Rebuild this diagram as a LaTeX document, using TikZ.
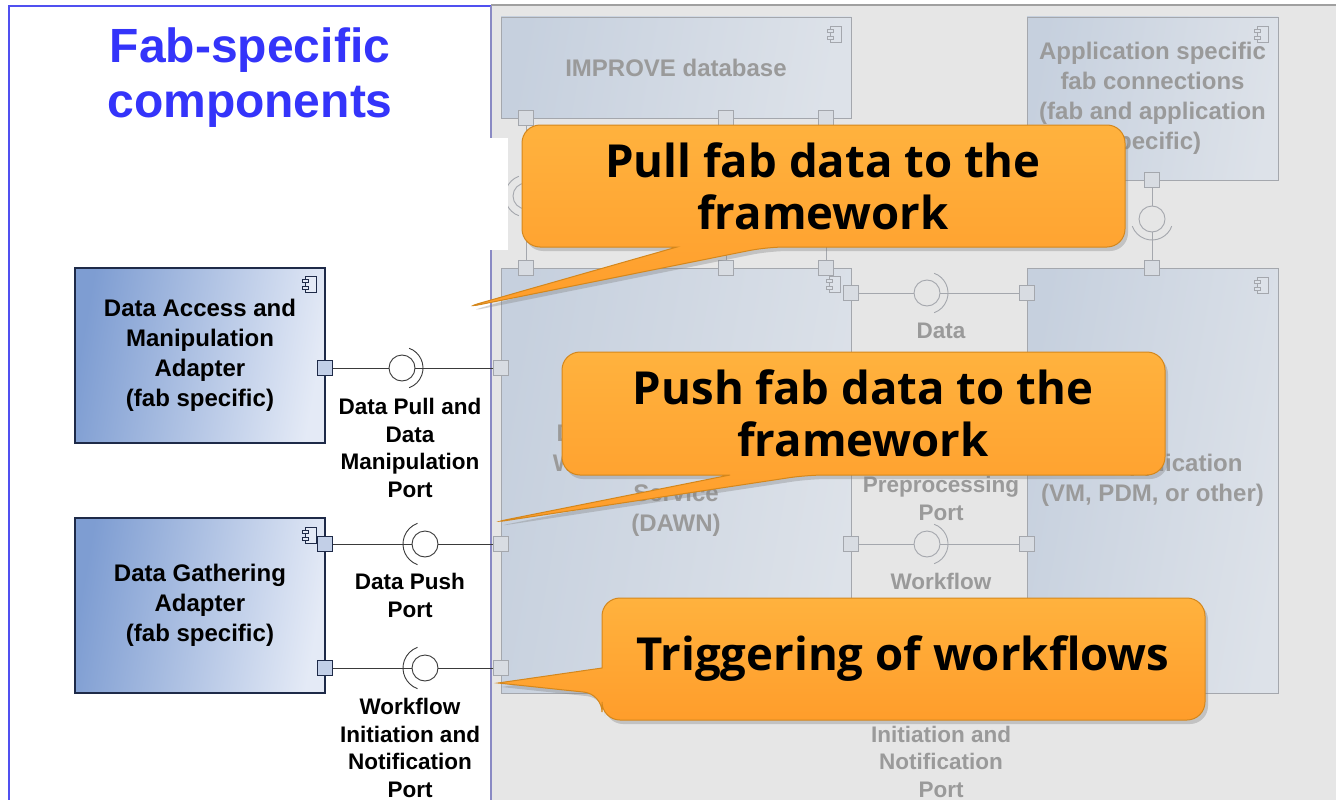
\documentclass[tikz,border=0pt]{standalone}
\usepackage{fontspec}
\setmainfont{Liberation Sans}
\newfontfamily\bubblefont{Open Sans}
\usetikzlibrary{shadows}

\definecolor{titleblue}{HTML}{3434FA}
\definecolor{panelblue}{HTML}{5050F0}
\definecolor{paneledge}{HTML}{8A8AC4}
\definecolor{greybg}{HTML}{E6E6E6}
\definecolor{greyedge}{HTML}{A0A0A0}
\definecolor{fadeA}{HTML}{C6D0DE}
\definecolor{fadeB}{HTML}{DDE2E9}
\definecolor{fadeline}{HTML}{A4A7AD}
\definecolor{fadetext}{HTML}{9A9A9A}
\definecolor{fadeport}{HTML}{D8DCE2}
\definecolor{adA}{HTML}{7E9DD2}
\definecolor{adB}{HTML}{E4EAF6}
\definecolor{adedge}{HTML}{1E2A48}
\definecolor{adport}{HTML}{C2CFE7}
\definecolor{wirecol}{HTML}{3A3A3A}
\definecolor{orangeA}{HTML}{FFB23E}
\definecolor{orangeB}{HTML}{FF9D2B}
\definecolor{orangeedge}{HTML}{D4871C}

\tikzset{
  compicon/.pic={
    \path[pic actions] (-4,-8) rectangle (7,8);
    \path[pic actions] (-7,-5) rectangle (-1,-2);
    \path[pic actions] (-7,2) rectangle (-1,5);
  },
  boxfont/.style={font=\fontsize{24}{30}\selectfont\bfseries},
  labelfont/.style={font=\fontsize{22.5}{27.5}\selectfont\bfseries, align=center, inner sep=0pt},
  adapter/.style={rectangle, draw=adedge, line width=1.3pt, left color=adA, right color=adB,
    shading angle=80, inner sep=0pt, boxfont, text=black, align=center},
  faded/.style={rectangle, draw=fadeline, line width=0.9pt, left color=fadeA, right color=fadeB,
    shading angle=80, inner sep=0pt, boxfont, text=fadetext, align=center},
  port/.style={rectangle, minimum size=15pt, inner sep=0pt, draw=adedge, fill=adport, line width=0.8pt},
  fport/.style={rectangle, minimum size=15pt, inner sep=0pt, draw=fadeline, fill=fadeport, line width=0.8pt},
  ball/.style={circle, minimum size=26pt, inner sep=0pt, draw=wirecol, fill=white, line width=0.9pt},
  fball/.style={circle, minimum size=26pt, inner sep=0pt, draw=fadeline, fill=greybg, line width=0.9pt},
  link/.style={draw=wirecol, line width=0.9pt},
  flink/.style={draw=fadeline, line width=0.9pt},
  sock/.style={draw=wirecol, line width=0.9pt},
  fsock/.style={draw=fadeline, line width=0.9pt},
  icondark/.style={draw=adedge, fill=adB, line width=0.7pt},
  iconfade/.style={draw=fadeline, fill=fadeB, line width=0.7pt},
  bubble/.style={draw=orangeedge, line width=1pt, top color=orangeA, bottom color=orangeB,
    drop shadow={opacity=0.35, shadow xshift=3pt, shadow yshift=-4pt}},
  bubbletext/.style={font={\bubblefont\bfseries\fontsize{45.5}{52}\selectfont}, align=center,
    inner sep=0pt, text=black},
}

\begin{document}
\begin{tikzpicture}[x=1pt,y=-1pt]
\useasboundingbox (0,0) rectangle (1336,800);
\fill[white] (0,0) rectangle (1336,800);

% framework area (grey, right)
\fill[greybg] (491,5) rectangle (1336,800);
\draw[greyedge, line width=1.2pt] (491,5) -- (1336,5);
% frame of the fab-specific panel
\draw[panelblue, line width=1.6pt] (9,800) -- (9,6) -- (491,6);
\draw[paneledge, line width=1.6pt] (491,6) -- (491,800);

% framework components
\node[faded, minimum width=350pt, minimum height=101pt] (improve) at (676,67.5) {IMPROVE database};
\node[faded, minimum width=251pt, minimum height=163pt] (appfab) at (1152.5,98.5)
  {Application specific\\fab connections\\(fab and application\\specific)};
\node[faded, minimum width=350pt, minimum height=425pt] (dawn) at (676,480.5)
  {Data Acquisition and\\Workflow Notification\\Service\\(DAWN)};
\node[faded, minimum width=251pt, minimum height=425pt] (app) at (1152.5,480.5)
  {Fab Application\\(VM, PDM, or other)};

\pic[iconfade] at (834,34) {compicon};
\pic[iconfade] at (1261,34) {compicon};
\pic[iconfade] at (833,284) {compicon};
\pic[iconfade] at (1261,285) {compicon};

% framework ports
\foreach \n/\x/\y in {i1/526/118, i2/726/118, i3/826/118, t1/526/268, t2/726/268, t3/826/268,
    s1/1152/180, s2/1152/268, r1/851/293, r2/851/544, a1/1027/293, a2/1027/544,
    l1/501/368, l2/501/544, l3/501/668}
  \node[fport] (\n) at (\x,\y) {};

% framework interfaces
\node[fball] (bT) at (526,196) {};
\node[fball] (bS) at (1152,219) {};
\node[fball] (bM1) at (927,293) {};
\node[fball] (bM2) at (927,544) {};
\draw[fsock] ([shift={(110:21)}]bT.center) arc (110:250:21);
\draw[fsock] ([shift={(20:21)}]bS.center) arc (20:160:21);
\draw[fsock] ([shift={(-70:21)}]bM1.center) arc (-70:70:21);
\draw[fsock] ([shift={(-70:21)}]bM2.center) arc (-70:70:21);

\draw[flink] (i1) -- (bT);
\draw[flink] (bT) -- (t1);
\draw[flink] (i2) -- (t2);
\draw[flink] (i3) -- (t3);
\draw[flink] (s1) -- (bS);
\draw[flink] (bS) -- (s2);
\draw[flink] (r1) -- (bM1);
\draw[flink] (bM1) -- (a1);
\draw[flink] (r2) -- (bM2);
\draw[flink] (bM2) -- (a2);

\node[labelfont, text=fadetext] (lbData) at (941,331) {Data};
\node[labelfont, text=fadetext] (lbPrep) at (941,498.5) {Preprocessing\\Port};
\node[labelfont, text=fadetext] (lbWf) at (941,581) {Workflow};
\node[labelfont, text=fadetext] (lbWfin) at (941,748) {Workflow\\Initiation and\\Notification\\Port};

% white patch over the framework edge
\fill[white] (488,138) rectangle (508,250);

% fab-specific adapters
\node[adapter, minimum width=250pt, minimum height=175pt] (dama) at (200,355.5)
  {Data Access and\\Manipulation\\Adapter\\(fab specific)};
\node[adapter, minimum width=250pt, minimum height=175pt] (dga) at (200,605.5)
  {Data Gathering\\Adapter\\(fab specific)};
\pic[icondark] at (309,284) {compicon};
\pic[icondark] at (309,535) {compicon};

\node[port] (pA) at (325,368) {};
\node[port] (pB) at (325,544) {};
\node[port] (pC) at (325,668) {};

\node[ball] (bA) at (402,368) {};
\node[ball] (bB) at (425,544) {};
\node[ball] (bC) at (425,668) {};
\draw[sock] ([shift={(-70:21)}]bA.center) arc (-70:70:21);
\draw[sock] ([shift={(110:22)}]bB.center) arc (110:250:22);
\draw[sock] ([shift={(110:22)}]bC.center) arc (110:250:22);

\draw[link] (pA) -- (bA);
\draw[link] (bA) -- (l1);
\draw[link] (pB) -- (bB);
\draw[link] (bB) -- (l2);
\draw[link] (pC) -- (bC);
\draw[link] (bC) -- (l3);

\node[labelfont] (lbPull) at (410,448) {Data Pull and\\Data\\Manipulation\\Port};
\node[labelfont] (lbPush) at (410,595.5) {Data Push\\Port};
\node[labelfont] (lbTrig) at (410,748) {Workflow\\Initiation and\\Notification\\Port};

% title
\node[font=\fontsize{48}{55}\selectfont\bfseries, text=titleblue, align=center, inner sep=0pt]
  (title) at (250,77.5) {Fab-specific\\components};

% callouts
\path[bubble] (522,186) [rounded corners=18] -- (522,125) -- (1125,125) -- (1125,247)
  -- (767,247) -- (463,308) [sharp corners] -- (677,247) [rounded corners=18] -- (522,247) -- cycle;
\node[bubbletext] (tPull) at (823,186) {Pull fab data to the\\framework};

\path[bubble] (562,413) [rounded corners=18] -- (562,352) -- (1165,352) -- (1165,475)
  -- (807,475) -- (490,523) [sharp corners] -- (730,475) [rounded corners=18] -- (562,475) -- cycle;
\node[bubbletext] (tPush) at (863,413) {Push fab data to the\\framework};

\path[bubble] (903,598) [rounded corners=18] -- (1205,598) -- (1205,720) -- (602,720)
  -- (602,694) [sharp corners] -- (498,683) -- (602,668) [rounded corners=18] -- (602,598) -- cycle;
\node[bubbletext] (tTrig) at (903,659) {Triggering of workflows};
\end{tikzpicture}
\end{document}
